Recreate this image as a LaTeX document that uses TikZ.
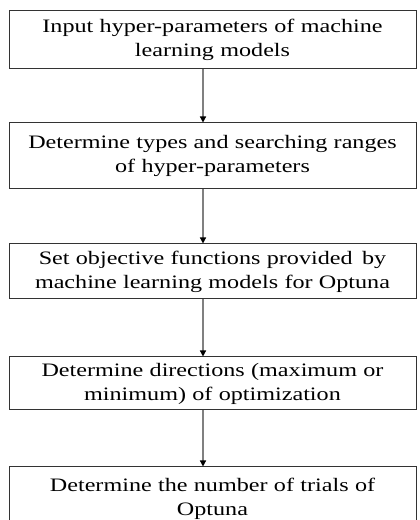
\documentclass[tikz,border=0pt]{standalone}
\usepackage{fontspec}
\setmainfont[FakeStretch=1.27]{Liberation Serif}
\usetikzlibrary{arrows.meta}
\tikzset{
  stepbox/.style={draw=black!80, line width=1pt, minimum width=407pt, text width=400pt, align=center, inner sep=0pt, font=\fontsize{19}{24}\selectfont},
  arr/.style={draw=black!50, line width=1.2pt, -{Triangle[black, length=6pt, width=6pt]}}
}
\begin{document}
\begin{tikzpicture}[x=1pt,y=1pt]
\useasboundingbox (0,0) rectangle (420,520);
\clip (0,0) rectangle (420,520);
\coordinate (ax) at (203,0);
\node[stepbox, minimum height=58pt] (b1) at (212.5,480) {Input hyper-parameters of machine\\learning models};
\node[stepbox, minimum height=66pt] (b2) at (212.5,364) {Determine types and searching ranges\\of hyper-parameters};
\node[stepbox, minimum height=55pt] (b3) at (212.5,248.5) {Set objective functions provided\, by\\machine learning models for Optuna};
\node[stepbox, minimum height=53pt] (b4) at (212.5,136.5) {Determine directions (maximum or\\minimum) of optimization};
\node[stepbox, minimum height=64pt] (b5) at (212.5,21) {Determine the number of trials of\\Optuna};
\draw[arr] (b1.south -| ax) -- (b2.north -| ax);
\draw[arr] (b2.south -| ax) -- (b3.north -| ax);
\draw[arr] (b3.south -| ax) -- (b4.north -| ax);
\draw[arr] (b4.south -| ax) -- (b5.north -| ax);
\end{tikzpicture}
\end{document}
